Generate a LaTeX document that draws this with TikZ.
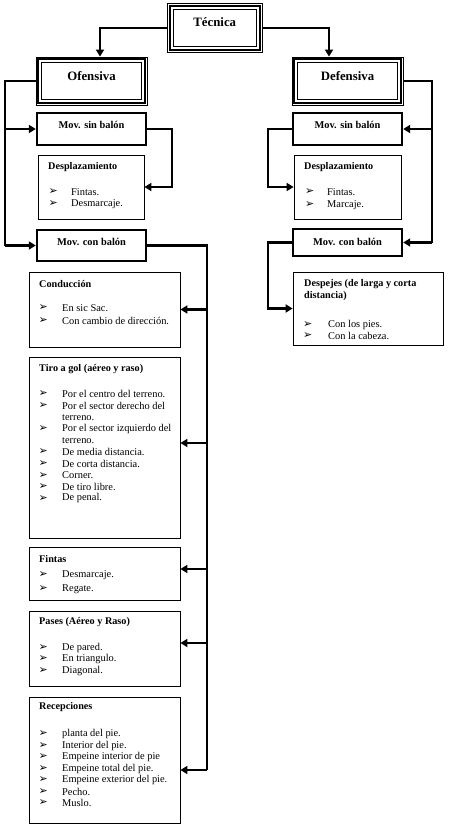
\documentclass[tikz,border=0pt]{standalone}
\usepackage{fontspec}
\setmainfont{Liberation Serif}
\newfontfamily\dejavu{DejaVu Sans}
\usetikzlibrary{arrows.meta}
\tikzset{
  conn/.style={line width=2.6pt, -{Triangle[width=8pt,length=7pt]}},
  plain/.style={line width=2.6pt},
  thinbox/.style={draw, line width=0.8pt, inner sep=0pt},
  movbox/.style={draw, line width=2.4pt, inner sep=0pt},
  outerbox/.style={draw, line width=0.8pt, inner sep=0pt},
  bigtxt/.style={font=\fontsize{12.8}{14}\selectfont\bfseries, inner sep=0pt},
  movtxt/.style={font=\fontsize{10.4}{12}\selectfont\bfseries, inner sep=0pt},
  hdr/.style={anchor=west, font=\fontsize{10.2}{11}\selectfont\bfseries, inner sep=0pt},
  txt/.style={anchor=west, font=\fontsize{10.4}{11}\selectfont, inner sep=0pt},
  bul/.style={anchor=west, font=\dejavu\fontsize{11}{11}\selectfont, inner sep=0pt},
}
\newcommand\tribox[1]{%
  \draw[line width=1.9pt] ([xshift=2.7pt,yshift=-2.7pt]#1.north west) rectangle ([xshift=-2.7pt,yshift=2.7pt]#1.south east);
  \draw[line width=0.9pt] ([xshift=6pt,yshift=-6pt]#1.north west) rectangle ([xshift=-6pt,yshift=6pt]#1.south east);}
\newcommand\itm[5]{\node[bul] (#1b) at (#2,#4) {➢}; \node[txt] (#1t) at (#3,#4) {#5};}
\begin{document}
\begin{tikzpicture}[x=1pt,y=-1pt]
\useasboundingbox[fill=white] (0,0) rectangle (450,829);

% top level boxes
\node[outerbox, minimum width=94.5pt, minimum height=49pt] (tec) at (214.75,28) {};
\tribox{tec}
\node[bigtxt] (tecl) at (214.75,22) {Técnica};
\node[outerbox, minimum width=111pt, minimum height=48pt] (ofe) at (91.5,81) {};
\tribox{ofe}
\node[bigtxt] (ofel) at (91.5,76) {Ofensiva};
\node[outerbox, minimum width=111pt, minimum height=48pt] (def) at (347.5,81) {};
\tribox{def}
\node[bigtxt] (defl) at (347.5,76) {Defensiva};

% left mov boxes
\node[movbox, minimum width=109pt, minimum height=32pt] (msL) at (91.5,129) {};
\node[movtxt] (msLl) at (91.5,125) {Mov. sin balón};
\node[thinbox, minimum width=106pt, minimum height=64pt] (dsL) at (91,187) {};
\node[hdr] (dsLh) at (48,167) {Desplazamiento};
\itm{dsL1}{48.5}{71}{192}{Fintas.}
\itm{dsL2}{48.5}{71}{204}{Desmarcaje.}
\node[movbox, minimum width=109pt, minimum height=31pt] (mcL) at (91.5,245.5) {};
\node[movtxt] (mcLl) at (91.5,242) {Mov. con balón};

% right mov boxes
\node[movbox, minimum width=109pt, minimum height=32pt] (msR) at (347.5,129) {};
\node[movtxt] (msRl) at (347.5,125) {Mov. sin balón};
\node[thinbox, minimum width=107pt, minimum height=64pt] (dsR) at (347.5,187) {};
\node[hdr] (dsRh) at (304,167) {Desplazamiento};
\itm{dsR1}{305}{327}{192}{Fintas.}
\itm{dsR2}{305}{327}{205}{Marcaje.}
\node[movbox, minimum width=109pt, minimum height=27pt] (mcR) at (347.5,242.5) {};
\node[movtxt] (mcRl) at (347.5,242) {Mov. con balón};
\node[thinbox, minimum width=150pt, minimum height=73pt] (dep) at (368,308.5) {};
\node[hdr] (deph1) at (304,284) {Despejes (de larga y corta};
\node[hdr] (deph2) at (304,296) {distancia)};
\itm{dep1}{303}{328}{325}{Con los pies.}
\itm{dep2}{303}{328}{336}{Con la cabeza.}

% left column boxes
\node[thinbox, minimum width=151pt, minimum height=75pt] (con) at (104.5,309.5) {};
\node[hdr] (conh) at (39,284) {Conducción};
\itm{con1}{38.5}{62}{308}{En sic Sac.}
\itm{con2}{38.5}{62}{321}{Con cambio de dirección.}

\node[thinbox, minimum width=151pt, minimum height=181pt] (tir) at (104.5,447.5) {};
\node[hdr] (tirh) at (39,369) {Tiro a gol (aéreo y raso)};
\itm{tir1}{38.5}{62}{394}{Por el centro del terreno.}
\itm{tir2}{38.5}{62}{405.6}{Por el sector derecho del}
\node[txt] (tir2c) at (62,417.2) {terreno.};
\itm{tir3}{38.5}{62}{428.8}{Por el sector izquierdo del}
\node[txt] (tir3c) at (62,440.4) {terreno.};
\itm{tir4}{38.5}{62}{452}{De media distancia.}
\itm{tir5}{38.5}{62}{463.6}{De corta distancia.}
\itm{tir6}{38.5}{62}{475.2}{Corner.}
\itm{tir7}{38.5}{62}{486.8}{De tiro libre.}
\itm{tir8}{38.5}{62}{498.4}{De penal.}

\node[thinbox, minimum width=151pt, minimum height=53pt] (fin) at (104.5,573.5) {};
\node[hdr] (finh) at (39,559) {Fintas};
\itm{fin1}{38.5}{62}{575}{Desmarcaje.}
\itm{fin2}{38.5}{62}{589}{Regate.}

\node[thinbox, minimum width=151pt, minimum height=75pt] (pas) at (104.5,648.5) {};
\node[hdr] (pash) at (39,622) {Pases (Aéreo y Raso)};
\itm{pas1}{38.5}{62}{648}{De pared.}
\itm{pas2}{38.5}{62}{659}{En triangulo.}
\itm{pas3}{38.5}{62}{671}{Diagonal.}

\node[thinbox, minimum width=151pt, minimum height=126pt] (rec) at (104.5,760) {};
\node[hdr] (rech) at (39,707) {Recepciones};
\itm{rec1}{38.5}{62}{734}{planta del pie.}
\itm{rec2}{38.5}{62}{745.5}{Interior del pie.}
\itm{rec3}{38.5}{62}{757}{Empeine interior de pie}
\itm{rec4}{38.5}{62}{768.5}{Empeine total del pie.}
\itm{rec5}{38.5}{62}{780}{Empeine exterior del pie.}
\itm{rec6}{38.5}{62}{791.5}{Pecho.}
\itm{rec7}{38.5}{62}{803}{Muslo.}

% coordinates for connector rails
\coordinate (lv) at (5,0);
\coordinate (rL) at (172,0);
\coordinate (cv) at (207,0);
\coordinate (rv) at (432,0);
\coordinate (rR) at (268,0);

% connectors from Técnica
\draw[conn] (tec.west) -| ([xshift=8.5pt]ofe.north);
\draw[conn] (tec.east) -| ([xshift=-18.5pt]def.north);

% Ofensiva side
\draw[plain] (ofe.west) -| (lv |- mcL.west);
\draw[conn] (lv |- msL.west) -- (msL.west);
\draw[conn] (lv |- mcL.west) -- (mcL.west);
\draw[conn] (msL.east) -| (rL |- dsL.east) -- (dsL.east);

% long rail
\draw[plain] (mcL.east) -| (cv |- 0,770);
\draw[conn] (cv |- con.east) -- (con.east);
\draw[conn] (cv |- 0,443) -- (tir.east |- 0,443);
\draw[conn] (cv |- 0,569) -- (fin.east |- 0,569);
\draw[conn] (cv |- 0,643) -- (pas.east |- 0,643);
\draw[conn] (cv |- 0,770) -- (rec.east |- 0,770);

% Defensiva side
\draw[plain] (def.east) -| (rv |- mcR.east);
\draw[conn] (rv |- msR.east) -- (msR.east);
\draw[conn] (rv |- mcR.east) -- (mcR.east);
\draw[conn] (msR.west) -| (rR |- dsR.west) -- (dsR.west);
\draw[conn] (mcR.west) -| (rR |- dep.west) -- (dep.west);
\end{tikzpicture}
\end{document}
